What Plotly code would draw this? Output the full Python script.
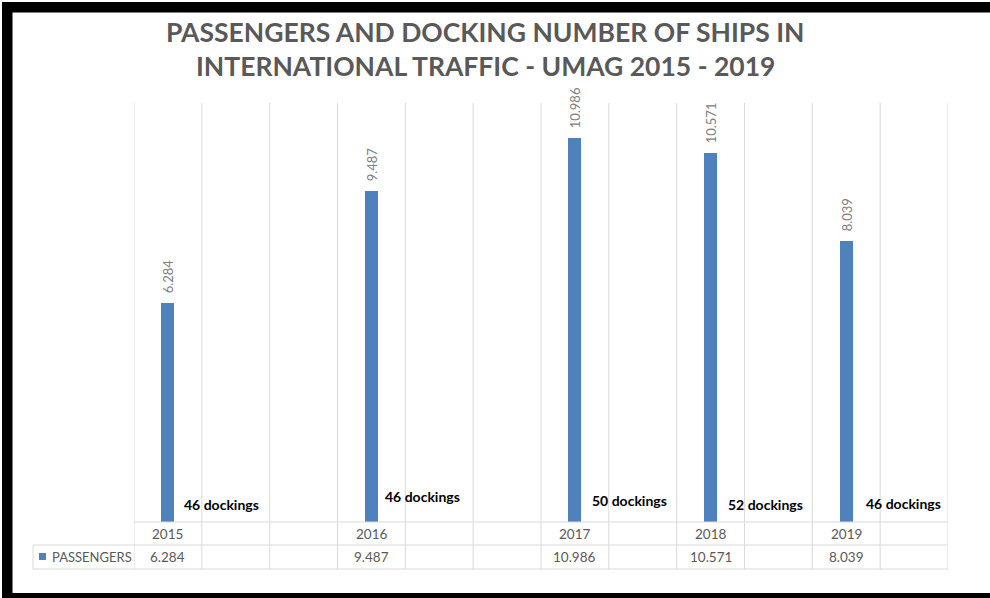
import plotly.graph_objects as go

# ---- data ----
columns = ["2015", "", "", "2016", "", "", "2017", "", "2018", "", "2019", ""]
passengers = [6284, None, None, 9487, None, None, 10986, None, 10571, None, 8039, None]
dockings = [46, None, None, 46, None, None, 50, None, 52, None, 46, None]
series_name = "PASSENGERS"
title_lines = ["PASSENGERS AND DOCKING NUMBER OF SHIPS IN",
               "INTERNATIONAL TRAFFIC - UMAG 2015 - 2019"]

# ---- geometry helpers (pixel -> paper) ----
W, H = 990, 598
L, R, T, B = 134, 42, 103, 76
PW, PH = W - L - R, H - T - B


def px(x):
    return (x - L) / PW


def py(y):
    return (H - B - y) / PH


BLUE = "#4f81bd"
GRID = "#d9d9d9"
TXT = "#595959"
FONT = "Lato, Open Sans, sans-serif"

xs = list(range(len(columns)))

fig = go.Figure()
fig.add_trace(go.Bar(
    x=xs, y=passengers, name=series_name,
    marker=dict(color=BLUE, line=dict(width=0)),
    width=0.19,
    texttemplate="\u00a0\u00a0%{y:,}", textposition="outside", textangle=-90,
    textfont=dict(family=FONT, size=13, color="#808080"),
    constraintext="none", cliponaxis=False,
    showlegend=False, hoverinfo="skip",
))

shapes = []
# vertical grid + table column lines
for i in range(len(columns) + 1):
    shapes.append(dict(type="line", xref="x", yref="paper",
                       x0=i - 0.5, x1=i - 0.5, y0=py(569), y1=1,
                       line=dict(color=GRID, width=1), layer="below"))
# table horizontal lines
shapes.append(dict(type="line", xref="paper", yref="paper", x0=0, x1=1,
                   y0=0, y1=0, line=dict(color=GRID, width=1)))
for yy in (545, 569):
    shapes.append(dict(type="line", xref="paper", yref="paper", x0=px(33), x1=1,
                       y0=py(yy), y1=py(yy), line=dict(color=GRID, width=1)))
shapes.append(dict(type="line", xref="paper", yref="paper", x0=px(33), x1=px(33),
                   y0=py(545), y1=py(569), line=dict(color=GRID, width=1)))
# legend key in table
shapes.append(dict(type="rect", xref="paper", yref="paper",
                   x0=px(39), x1=px(46), y0=py(560), y1=py(553),
                   fillcolor=BLUE, line=dict(width=0)))
# black frame
for x0, x1, y0, y1 in [(2, 12.5, 2, 610), (2, 1000, 2, 12.5), (2, 1000, 593, 610)]:
    shapes.append(dict(type="rect", xref="paper", yref="paper",
                       x0=px(x0), x1=px(x1), y0=py(y1), y1=py(y0),
                       fillcolor="black", line=dict(width=0)))

annotations = []
# title
for line, yc in zip(title_lines, (32, 66)):
    annotations.append(dict(text=line, xref="paper", yref="paper",
                            x=px(485), y=py(yc), xanchor="center", yanchor="middle",
                            showarrow=False,
                            font=dict(family=FONT, size=26.5, color=TXT, weight="bold")))
# table rows
for i, (c, v) in enumerate(zip(columns, passengers)):
    if c:
        annotations.append(dict(text=c, x=i, xref="x", yref="paper", y=py(533.5),
                                showarrow=False, yanchor="middle",
                                font=dict(family=FONT, size=13.5, color=TXT)))
    if v is not None:
        annotations.append(dict(text=f"{v:,}".replace(",", "."), x=i, xref="x",
                                yref="paper", y=py(557), showarrow=False,
                                yanchor="middle",
                                font=dict(family=FONT, size=13.5, color=TXT)))
annotations.append(dict(text=series_name, xref="paper", yref="paper",
                        x=px(50), y=py(557), xanchor="left", yanchor="middle",
                        showarrow=False, font=dict(family=FONT, size=13, color=TXT)))
# docking labels
dock_pos = [(14, 504), (12, 496), (15, 500), (15, 504), (18, 503)]
k = 0
for i, d in enumerate(dockings):
    if d is None:
        continue
    dx, yc = dock_pos[k]
    k += 1
    annotations.append(dict(text=f"{d} dockings", x=i, xref="x", yref="paper",
                            y=py(yc), xanchor="left", yanchor="middle",
                            xshift=dx, showarrow=False,
                            font=dict(family=FONT, size=14, color="black",
                                      weight="bold")))

fig.update_layout(
    width=W, height=H,
    margin=dict(l=L, r=R, t=T, b=B, pad=0),
    paper_bgcolor="white", plot_bgcolor="white",
    separators=",.",
    hovermode=False,
    xaxis=dict(range=[-0.5, len(columns) - 0.5], showgrid=False, zeroline=False,
               showticklabels=False, showline=False, ticks=""),
    yaxis=dict(range=[0, 12000], showgrid=False, zeroline=False,
               showticklabels=False, showline=False, ticks=""),
    shapes=shapes, annotations=annotations,
    bargap=0,
)

fig.write_html("out.html",
               config={"displayModeBar": False},
               post_script="document.body.style.margin='0';"
                           "document.body.style.overflow='hidden';")
